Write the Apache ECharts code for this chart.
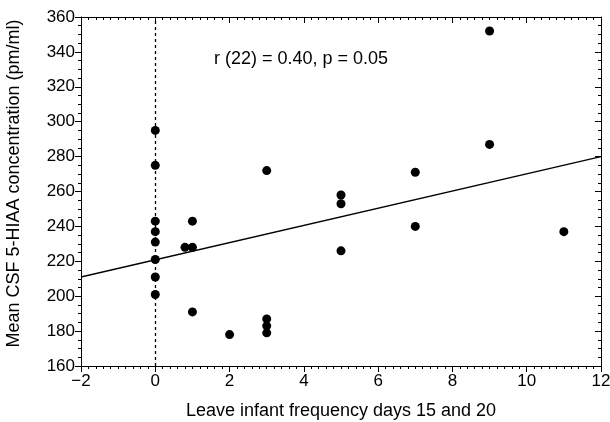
<!DOCTYPE html>
<html>
<head>
<meta charset="utf-8">
<script src="https://cdn.jsdelivr.net/npm/echarts@6/dist/echarts.min.js"></script>
<style>
  html, body { margin: 0; padding: 0; background: #fff; }
  #chart { width: 610px; height: 422px; }
</style>
</head>
<body>
<div id="chart"></div>
<script>
// leave-infant frequency (x) vs mean CSF 5-HIAA (y)
const freqDays = [0, 0, 0, 0, 0, 0, 0, 0, 0.8, 1, 1, 1, 2, 3, 3, 3, 3, 5, 5, 5, 7, 7, 9, 9, 11];
const hiaa = [295, 275, 243, 237, 231, 221, 211, 201, 228, 243, 228, 191, 178, 272, 187, 183, 179, 258, 253, 226, 271, 240, 352, 287, 237];

// regression line end points
const fitX = [-2, 12];
const fitY = [211, 280];

const statText = 'r (22) = 0.40, p = 0.05';

const font = 'Liberation Sans, Arial, Helvetica, sans-serif';
const minus = v => String(v).replace('-', '\u2212');

const chart = echarts.init(document.getElementById('chart'), null, { renderer: 'canvas' });

// bottom/left ticks point outward, top/right ticks point inward
function frameAxis(inside) {
  return {
    axisLine: { show: true, onZero: false, lineStyle: { color: '#000', width: 1 } },
    axisTick: { show: true, inside: inside, length: 6, lineStyle: { color: '#000' } },
    minorTick: { show: true, length: 3, lineStyle: { color: '#000' } },
    splitLine: { show: false },
    minorSplitLine: { show: false }
  };
}

chart.setOption({
  animation: false,
  backgroundColor: '#fff',
  grid: { left: 81, right: 9, top: 17, bottom: 56, containLabel: false, outerBoundsMode: 'none' },
  xAxis: [
    Object.assign(frameAxis(false), {
      type: 'value', min: -2, max: 12, interval: 2, position: 'bottom',
      minorTick: { show: true, length: 3, splitNumber: 10, lineStyle: { color: '#000' } },
      axisLabel: { color: '#000', fontSize: 17, fontFamily: font, margin: 7, formatter: minus },
      name: 'Leave infant frequency days 15 and 20',
      nameLocation: 'middle', nameGap: 36,
      nameTextStyle: { color: '#000', fontSize: 18, fontFamily: font }
    }),
    Object.assign(frameAxis(true), {
      type: 'value', min: -2, max: 12, interval: 2, position: 'top',
      minorTick: { show: true, length: 3, splitNumber: 10, lineStyle: { color: '#000' } },
      axisLabel: { show: false }
    })
  ],
  yAxis: [
    Object.assign(frameAxis(false), {
      type: 'value', min: 160, max: 360, interval: 20, position: 'left',
      minorTick: { show: true, length: 3, splitNumber: 4, lineStyle: { color: '#000' } },
      axisLabel: { color: '#000', fontSize: 17, fontFamily: font, margin: 6 },
      name: 'Mean CSF 5-HIAA concentration (pm/ml)',
      nameLocation: 'middle', nameGap: 58, nameRotate: 90,
      nameTextStyle: { color: '#000', fontSize: 18, fontFamily: font, padding: [0, 0, 0, 16] }
    }),
    Object.assign(frameAxis(true), {
      type: 'value', min: 160, max: 360, interval: 20, position: 'right',
      minorTick: { show: true, length: 3, splitNumber: 4, lineStyle: { color: '#000' } },
      axisLabel: { show: false }
    })
  ],
  series: [
    {
      type: 'line',
      data: fitX.map((x, i) => [x, fitY[i]]),
      showSymbol: false,
      lineStyle: { color: '#000', width: 1.3 },
      silent: true
    },
    {
      type: 'scatter',
      data: freqDays.map((x, i) => [x, hiaa[i]]),
      symbol: 'circle',
      symbolSize: 9,
      itemStyle: { color: '#000', opacity: 1 },
      markLine: {
        silent: true,
        symbol: 'none',
        label: { show: false },
        lineStyle: { color: '#000', type: [3, 3], width: 1.3 },
        data: [{ xAxis: 0 }]
      }
    }
  ],
  graphic: [{
    type: 'text',
    left: 214, top: 50,
    style: { text: statText, fill: '#000', fontSize: 18, fontFamily: font }
  }]
});

window.addEventListener('resize', () => chart.resize());
</script>
</body>
</html>
